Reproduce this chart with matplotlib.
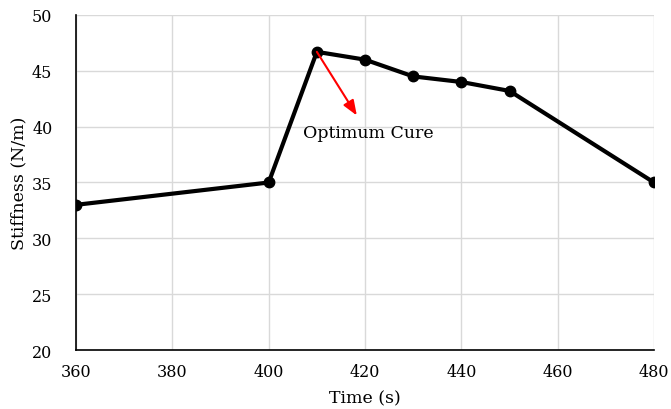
import matplotlib
matplotlib.use('Agg')
import matplotlib.pyplot as plt

# data
time_s = [360, 400, 410, 420, 430, 440, 450, 480]
stiffness = [33.0, 35.0, 46.7, 46.0, 44.5, 44.0, 43.2, 35.0]
x_ticks = [360, 380, 400, 420, 440, 460, 480]
y_ticks = [20, 25, 30, 35, 40, 45, 50]

plt.rcParams['font.family'] = ['DejaVu Serif']

fig = plt.figure(figsize=(6.71, 4.10), dpi=100)
ax = fig.add_axes([0.1133, 0.1439, 0.8614, 0.8171])

ax.plot(time_s, stiffness, color='black', lw=3, marker='o', ms=7.5, zorder=3)

ax.annotate('', xy=(418.3, 41.0), xytext=(410, 46.7),
            arrowprops=dict(arrowstyle='-|>,head_width=0.35,head_length=0.9',
                            color='red', lw=1.5, mutation_scale=10,
                            shrinkA=0, shrinkB=0),
            zorder=4)
ax.text(420.6, 39.5, 'Optimum Cure', ha='center', va='center', fontsize=12.5)

ax.set_xlim(360, 480)
ax.set_ylim(20, 50)
ax.set_xticks(x_ticks)
ax.set_yticks(y_ticks)
ax.tick_params(length=0, labelsize=11.5)
ax.tick_params(axis='x', pad=9)
ax.tick_params(axis='y', pad=17)
ax.grid(True, color='#d9d9d9', lw=1)
ax.set_axisbelow(True)
for s in ['top', 'right']:
    ax.spines[s].set_visible(False)
ax.spines['left'].set_color('black')
ax.spines['bottom'].set_color('black')
ax.spines['left'].set_linewidth(1.2)
ax.spines['bottom'].set_linewidth(1.2)

ax.set_xlabel('Time (s)', fontsize=12.5, labelpad=7)
ax.set_ylabel('Stiffness (N/m)', fontsize=12.5, labelpad=3)

fig.savefig('out.png', dpi=100)
